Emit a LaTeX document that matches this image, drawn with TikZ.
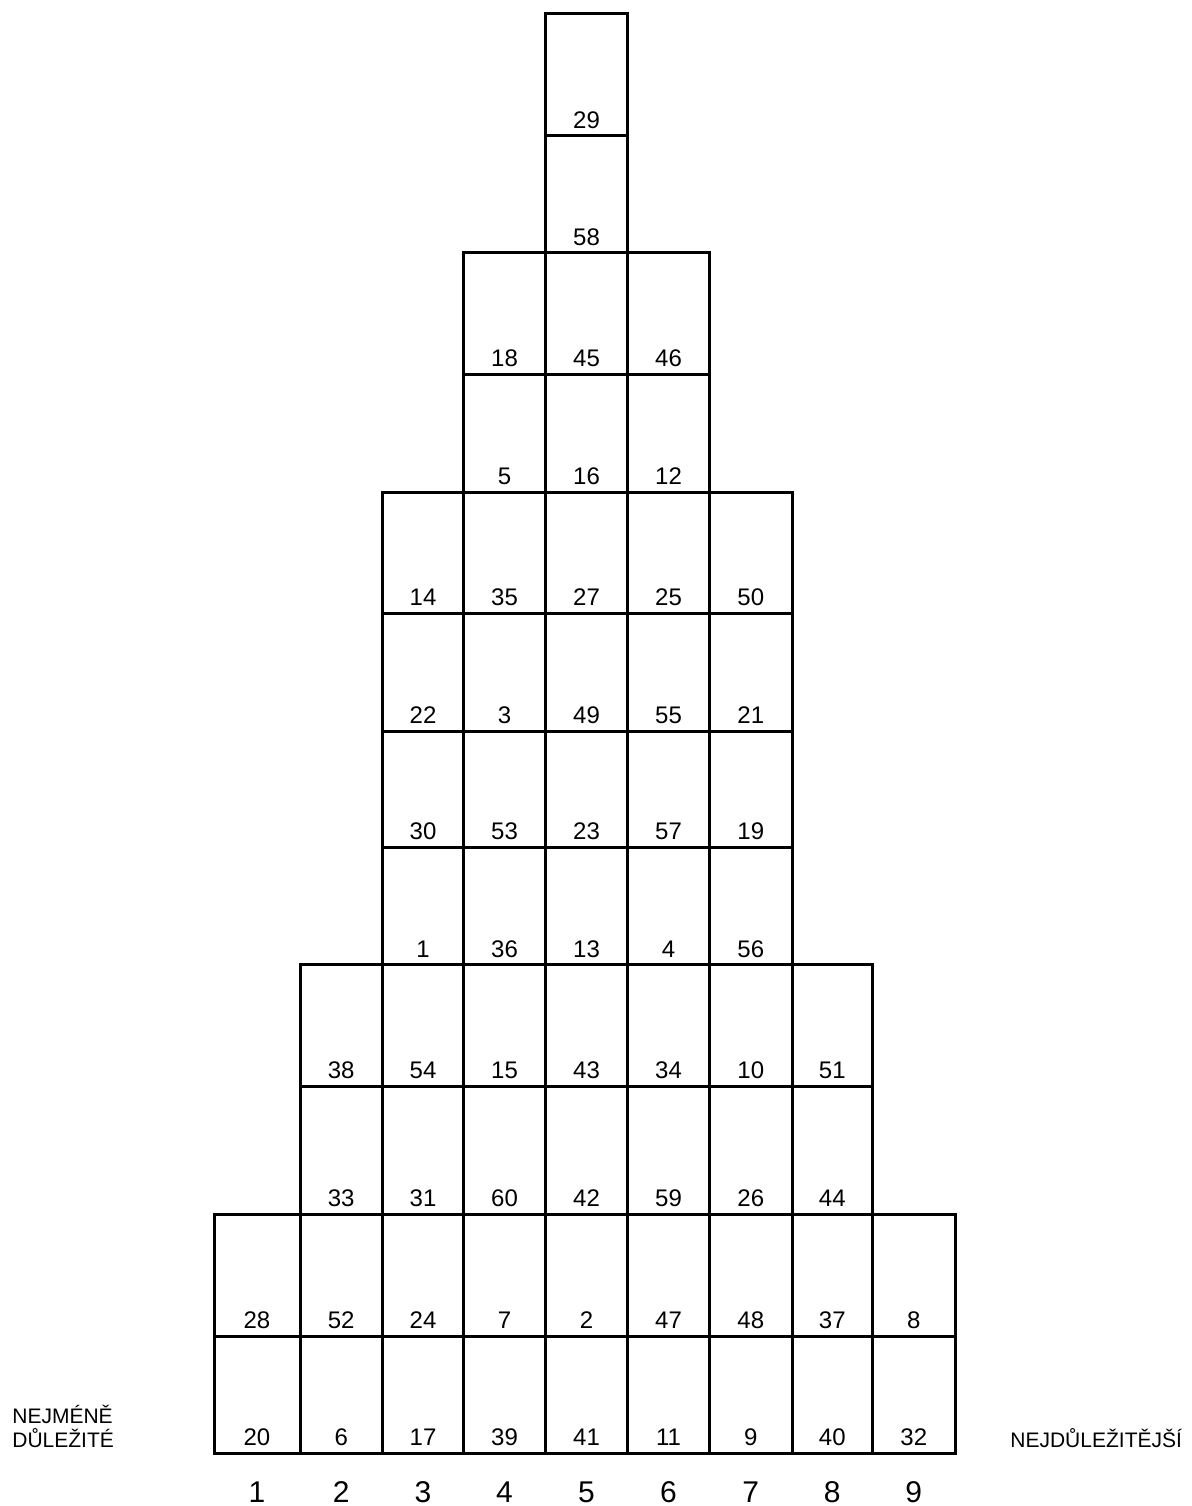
\documentclass[tikz,border=0pt]{standalone}
\usepackage{fontspec}
\setmainfont{Liberation Sans}
\begin{document}
\begin{tikzpicture}[x=0.5pt,y=-0.5pt,
  cell/.style={draw=black,line width=1.5pt},
  num/.style={anchor=base,inner sep=0pt,font=\fontsize{12}{14}\selectfont},
  colnum/.style={anchor=base,inner sep=0pt,font=\fontsize{15}{18}\selectfont},
  side/.style={anchor=base west,inner sep=0pt,font=\fontsize{10.5}{12}\selectfont}]
\useasboundingbox (0,0) rectangle (1191,1506);
\def\colx{{214,300,382.5,463.5,545.5,627.5,709.5,792,872.5,955}}
\foreach \ybot/\ytop/\first/\nums in {
  1453/1336/1/{20,6,17,39,41,11,9,40,32},
  1336/1214/1/{28,52,24,7,2,47,48,37,8},
  1214/1086/2/{33,31,60,42,59,26,44},
  1086/964.5/2/{38,54,15,43,34,10,51},
  964.5/847/3/{1,36,13,4,56},
  847/731/3/{30,53,23,57,19},
  731/613/3/{22,3,49,55,21},
  613/492/3/{14,35,27,25,50},
  492/374/4/{5,16,12},
  374/252.7/4/{18,45,46},
  252.7/135.5/5/{58},
  135.5/13/5/{29}}{
  \foreach \n [count=\i from \first] in \nums {
    \pgfmathsetmacro\xl{\colx[\i-1]}
    \pgfmathsetmacro\xr{\colx[\i]}
    \draw[cell] (\xl,\ytop) rectangle (\xr,\ybot);
    \node[num] (n\n) at ({(\xl+\xr)/2},{\ybot-7.5}) {\n};
  }
}
\foreach \k in {1,...,9} {
  \pgfmathsetmacro\xl{\colx[\k-1]}
  \pgfmathsetmacro\xr{\colx[\k]}
  \node[colnum] (k\k) at ({(\xl+\xr)/2},1502) {\k};
}
\node[side] (leastA) at (12,1423) {NEJMÉNĚ};
\node[side] (leastB) at (12,1447) {DŮLEŽITÉ};
\node[side] (most) at (1010,1447) {NEJDŮLEŽITĚJŠÍ};
\end{tikzpicture}
\end{document}
